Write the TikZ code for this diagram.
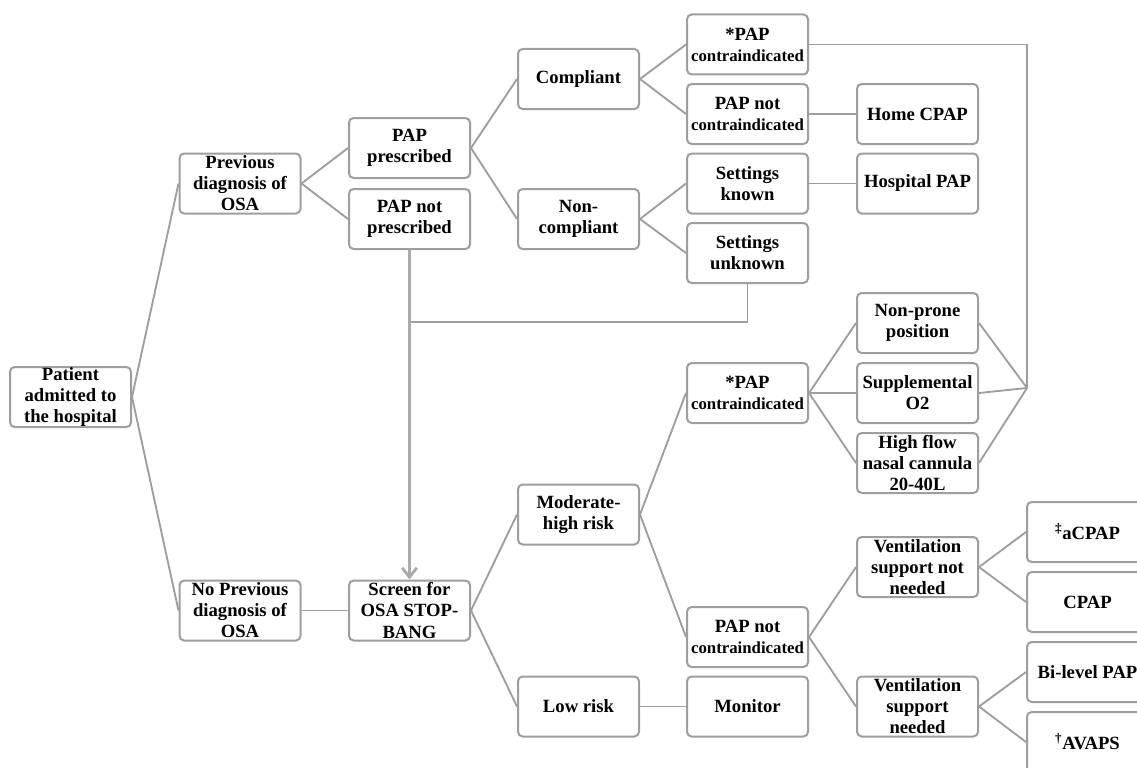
\documentclass[tikz,border=0pt]{standalone}
\usepackage{fontspec}
\setmainfont{Liberation Serif}
\usetikzlibrary{arrows.meta}
\newcommand\cind{{\fontsize{12.6}{14}\selectfont contraindicated}}

\begin{document}
\begin{tikzpicture}[x=0.75pt, y=-0.75pt]
  \tikzstyle{box}=[draw=black!38, line width=1.5pt, rounded corners=3.5pt, fill=white,
    minimum width=90.75pt, minimum height=45pt, inner sep=0pt, align=center,
    font=\bfseries\fontsize{14}{15.8}\selectfont]
  \tikzstyle{link}=[draw=black!38, line width=1.4pt]
  \useasboundingbox (0,0) rectangle (1137,767);

  \path
    (70.5,397) node[box] (pat) {Patient\\admitted to\\the hospital}
    (240,183.5) node[box] (prev) {Previous\\diagnosis of\\OSA}
    (240,610.5) node[box] (noprev) {No Previous\\diagnosis of\\OSA};

  \path
    (409.5,148) node[box] (papy) {PAP\\prescribed}
    (409.5,219) node[box] (papn) {PAP not\\prescribed}
    (409.5,610.5) node[box] (scr) {Screen for\\OSA STOP-\\BANG};

  \path
    (578.5,79) node[box] (comp) {Compliant}
    (578.5,219) node[box] (ncomp) {Non-\\compliant}
    (578.5,514.5) node[box] (mod) {Moderate-\\high risk}
    (578.5,706.5) node[box] (low) {Low risk};

  \path
    (747.5,44.5) node[box] (ci1) {*PAP\\\cind}
    (747.5,114) node[box] (nci1) {PAP not\\\cind}
    (747.5,183.5) node[box] (sk) {Settings\\known}
    (747.5,253) node[box] (su) {Settings\\unknown}
    (747.5,393) node[box] (ci2) {*PAP\\\cind}
    (747.5,637) node[box] (nci2) {PAP not\\\cind}
    (747.5,706.5) node[box] (mon) {Monitor};

  \path
    (917.5,114) node[box] (home) {Home CPAP}
    (917.5,183.5) node[box] (hosp) {Hospital PAP}
    (917.5,323) node[box] (prone) {Non-prone\\position}
    (917.5,393) node[box] (otwo) {Supplemental\\O2}
    (917.5,463) node[box] (hfnc) {High flow\\nasal cannula\\20-40L}
    (917.5,567) node[box] (vnn) {Ventilation\\support not\\needed}
    (917.5,706.5) node[box] (vn) {Ventilation\\support\\needed};

  \path
    (1087.5,532) node[box] (acpap) {\textsuperscript{‡}aCPAP}
    (1087.5,602) node[box] (cpap) {CPAP}
    (1087.5,672) node[box] (bilev) {Bi-level PAP}
    (1087.5,742) node[box] (avaps) {\textsuperscript{†}AVAPS};

  \foreach \f/\t in {pat/prev,pat/noprev,prev/papy,prev/papn,papy/comp,papy/ncomp,
      comp/ci1,comp/nci1,nci1/home,ncomp/sk,ncomp/su,sk/hosp,noprev/scr,scr/mod,
      scr/low,mod/ci2,mod/nci2,low/mon,ci2/prone,ci2/otwo,ci2/hfnc,nci2/vnn,
      nci2/vn,vnn/acpap,vnn/cpap,vn/bilev,vn/avaps}
    \path[link] (\f.east) -- (\t.west);

  \coordinate (mrg) at (1027,388);
  \coordinate (jn) at (409.5,322);

  \foreach \f in {prone,otwo,hfnc}
    \path[link] (\f.east) -- (mrg);

  \path[link] (mrg) |- (ci1.east);
  \path[link] (su.south) |- (jn);

  \path[draw=black!33, line width=2.2pt, -{Straight Barb[length=7pt,width=11pt]}]
    (papn.south) -- (scr.north);

\end{tikzpicture}
\end{document}
